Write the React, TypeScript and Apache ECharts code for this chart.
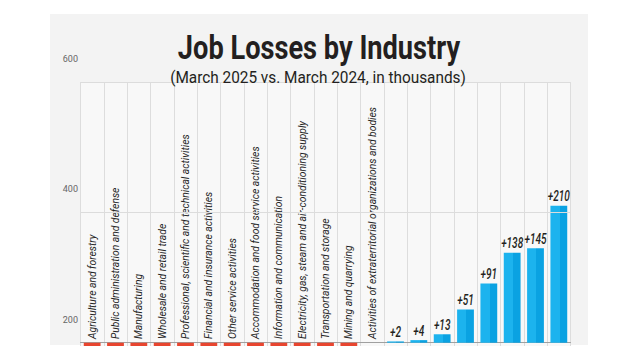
import React, { useEffect, useRef } from "react";
import * as echarts from "echarts";

const categories = [
  "Agriculture and forestry",
  "Public administration and defense",
  "Manufacturing",
  "Wholesale and retail trade",
  "Professional, scientific and technical activities",
  "Financial and insurance activities",
  "Other service activities",
  "Accommodation and food service activities",
  "Information and communication",
  "Electricity, gas, steam and air-conditioning supply",
  "Transportation and storage",
  "Mining and quarrying",
  "Activities of extraterritorial organizations and bodies",
  "", "", "", "", "", "", "", "",
];

const lossValues = [-5, -5, -5, -5, -5, -5, -5, -5, -5, -5, -5, -5, null, null, null, null, null, null, null, null, null];
const gainValues = [null, null, null, null, null, null, null, null, null, null, null, null, null, 2, 4, 13, 51, 91, 138, 145, 210];

const gridLineValues = [200, 400];
const yTickLabels = ["200", "400", "600"];

const TITLE = "Job Losses by Industry";
const SUBTITLE = "(March 2025 vs. March 2024, in thousands)";

const FONT = "Roboto, 'Liberation Sans', sans-serif";

export default function App() {
  const ref = useRef<HTMLDivElement>(null);
  useEffect(() => {
    if (!ref.current) return;
    const chart = echarts.init(ref.current, null, { renderer: "svg" });
    const blue = new echarts.graphic.LinearGradient(0, 0, 1, 0, [
      { offset: 0, color: "#1cb3ee" },
      { offset: 0.55, color: "#1cb3ee" },
      { offset: 0.55, color: "#0aa2e2" },
      { offset: 1, color: "#0aa2e2" },
    ]);
    const gainLabelData = gainValues
      .map((v, i) => (v == null ? null : [i, v]))
      .filter((d) => d != null);
    chart.setOption({
      animation: false,
      backgroundColor: "#ffffff",
      graphic: [
        {
          type: "rect",
          z: -10,
          silent: true,
          shape: { x: 50, y: 14, width: 538, height: 331 },
          style: { fill: "#f3f3f3" },
        },
        {
          type: "text",
          x: 319,
          y: 47,
          scaleX: 0.8,
          z: 10,
          style: {
            text: TITLE,
            textAlign: "center",
            textVerticalAlign: "middle",
            fontFamily: FONT,
            fontSize: 34,
            fontWeight: "bold",
            fill: "#231f20",
          },
        },
        {
          type: "text",
          x: 318,
          y: 77,
          scaleX: 0.96,
          z: 10,
          style: {
            text: SUBTITLE,
            textAlign: "center",
            textVerticalAlign: "middle",
            fontFamily: FONT,
            fontSize: 16,
            fill: "#231f20",
          },
        },
      ],
      grid: [
        { left: 80.5, right: 69.5, top: 82, bottom: 14, show: true, backgroundColor: "#f8f8f8", borderWidth: 0 },
        { left: 82, right: 69.5, top: 58.5, bottom: 40.5 },
      ],
      xAxis: [
        {
          type: "category",
          gridIndex: 0,
          data: categories,
          axisLine: { show: true, onZero: true, lineStyle: { color: "#a0a0a0", width: 1 } },
          axisTick: { show: false },
          splitLine: { show: true, interval: 0, lineStyle: { color: "#dddddd", width: 1 } },
          axisLabel: {
            inside: true,
            rotate: 90,
            interval: 0,
            margin: 7,
            fontFamily: FONT,
            fontStyle: "italic",
            fontSize: 10.3,
            color: "#262626",
          },
        },
        { type: "value", gridIndex: 1, show: false },
      ],
      yAxis: [
        {
          type: "value",
          gridIndex: 0,
          min: -5,
          max: 400,
          axisLine: { show: false },
          axisTick: { show: false },
          axisLabel: { show: false },
          splitLine: { show: false },
        },
        {
          type: "value",
          gridIndex: 1,
          min: 200,
          max: 600,
          interval: 200,
          axisLine: { show: false },
          axisTick: { show: false },
          splitLine: { show: false },
          axisLabel: {
            margin: 4,
            fontFamily: FONT,
            fontSize: 9,
            color: "#666666",
            formatter: (v: number) => (yTickLabels.includes(String(v)) ? String(v) : ""),
          },
        },
      ],
      series: [
        {
          type: "bar",
          name: "losses",
          xAxisIndex: 0,
          yAxisIndex: 0,
          stack: "total",
          barCategoryGap: "28%",
          data: lossValues,
          itemStyle: { color: "#e8452f" },
        },
        {
          type: "bar",
          name: "gains",
          xAxisIndex: 0,
          yAxisIndex: 0,
          stack: "total",
          barCategoryGap: "28%",
          data: gainValues,
          itemStyle: { color: blue },
          markLine: {
            silent: true,
            symbol: "none",
            label: { show: false },
            lineStyle: { color: "#dcdcdc", type: "solid", width: 1 },
            data: gridLineValues.map((v) => ({ yAxis: v })),
          },
        },
        {
          type: "custom",
          name: "gainLabels",
          xAxisIndex: 0,
          yAxisIndex: 0,
          silent: true,
          z: 5,
          data: gainLabelData,
          renderItem: (params: any, api: any) => {
            const idx = api.value(0);
            const val = api.value(1);
            const p = api.coord([idx, val]);
            return {
              type: "text",
              x: p[0],
              y: p[1] - 2,
              scaleX: 0.72,
              style: {
                text: "+" + val,
                textAlign: "center",
                textVerticalAlign: "bottom",
                fontFamily: FONT,
                fontStyle: "italic",
                fontWeight: 500,
                fontSize: 14,
                fill: "#231f20",
              },
            };
          },
        },
      ],
    });
    return () => chart.dispose();
  }, []);
  return <div ref={ref} style={{ position: "fixed", left: 0, top: 0, width: 640, height: 360 }} />;
}
